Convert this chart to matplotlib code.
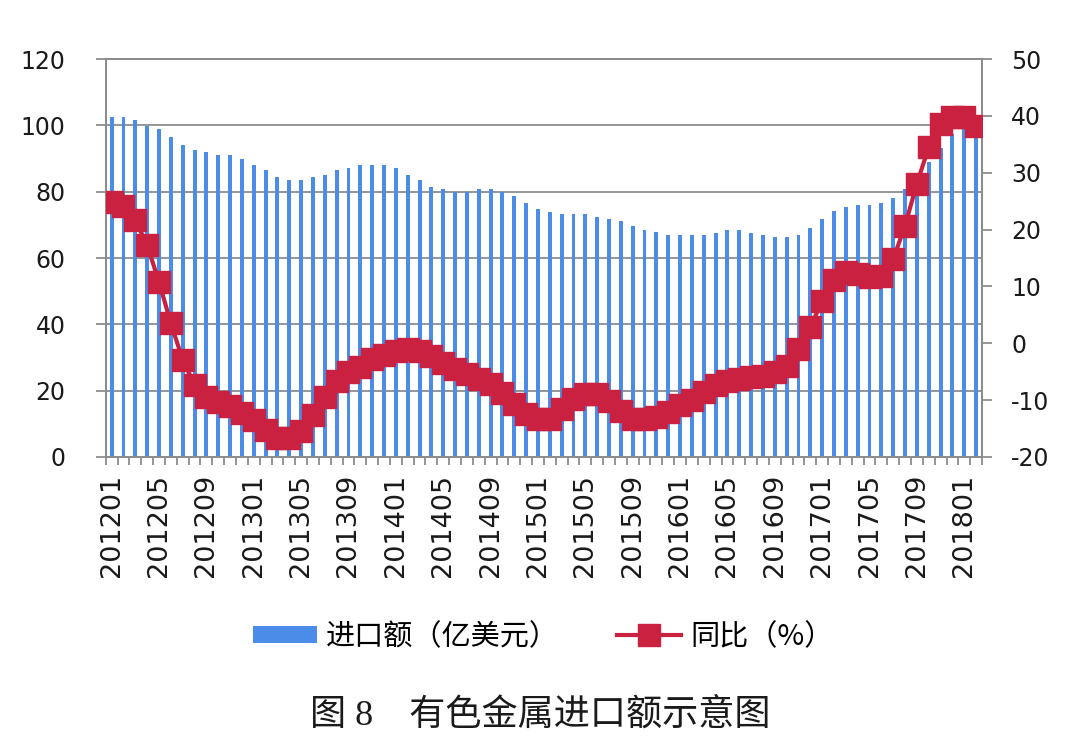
import numpy as np
import matplotlib
matplotlib.use("Agg")
import matplotlib.pyplot as plt
from matplotlib.font_manager import FontProperties
from matplotlib.lines import Line2D
from matplotlib.patches import Patch

# monthly import value (100m USD) and yoy growth (%), 201201 - 201802
months = [f"{y}{m:02d}" for y in range(2012, 2019) for m in range(1, 13)][:74]

import_val = [102.4, 102.4, 101.7, 99.9, 98.8, 96.6, 94.0, 92.6, 91.9, 91.2, 91.2, 89.9,
              87.9, 86.4, 84.4, 83.5, 83.5, 84.4, 85.0, 86.4, 87.2, 87.9, 87.9, 87.9,
              87.2, 85.0, 83.5, 81.5, 80.7, 80.0, 80.0, 80.7, 80.7, 80.0, 78.8, 76.7,
              74.7, 74.0, 73.3, 73.3, 73.3, 72.5, 71.8, 71.2, 69.7, 68.4, 67.7, 67.0,
              67.0, 67.0, 67.0, 67.6, 68.4, 68.4, 67.6, 67.0, 66.3, 66.3, 67.0, 69.1,
              71.9, 74.1, 75.3, 76.0, 76.0, 76.7, 78.1, 80.7, 85.5, 89.0, 93.3, 97.5,
              99.0, 98.0]

yoy = [24.9, 24.1, 21.7, 17.2, 10.8, 3.5, -2.9, -7.3, -9.4, -10.3, -11.1, -12.3,
       -13.5, -15.2, -16.7, -16.7, -15.5, -12.6, -9.4, -6.7, -5.1, -4.1, -2.8, -2.0,
       -1.3, -1.0, -1.3, -2.2, -3.4, -4.6, -5.4, -6.3, -7.2, -8.7, -10.7, -12.5,
       -13.4, -13.4, -11.6, -9.8, -9.0, -9.0, -10.1, -11.9, -13.4, -13.4, -13.0, -12.0,
       -10.8, -10.0, -8.6, -7.3, -6.7, -6.3, -6.0, -5.7, -5.0, -4.0, -1.0, 2.8,
       7.5, 11.2, 12.5, 12.2, 11.6, 11.8, 14.8, 20.7, 28.1, 34.5, 38.5, 39.8,
       39.8, 38.3]

bar_label = "进口额（亿美元）"
line_label = "同比（%）"
caption = "图 8　有色金属进口额示意图"

bar_c = "#4a8ce8"
line_c = "#c9213f"
grey = "#8c8c8c"
text_c = "#1a1a1a"
cjk = ["Noto Sans CJK SC", "DejaVu Sans"]

plt.rcParams["font.family"] = ["DejaVu Sans", "Noto Sans CJK SC"]
plt.rcParams["axes.unicode_minus"] = False

x = np.arange(len(months))

fig = plt.figure(figsize=(10.8, 7.51), dpi=100)
ax = fig.add_axes([0.0979, 0.3915, 0.8114, 0.5299])
ax2 = ax.twinx()

ax.bar(x, import_val, width=0.33, color=bar_c, zorder=2)
ax2.plot(x, yoy, color=line_c, lw=3, marker="s", ms=15.5, zorder=3)

ax.set_xlim(-0.5, len(months) - 0.5)
ax.set_ylim(0, 120)
ax.set_yticks(range(0, 121, 20))
ax2.set_ylim(-20, 50)
ax2.set_yticks(range(-20, 51, 10))

ax.set_axisbelow(True)
ax.yaxis.grid(True, color=grey, lw=1.3)
ax.xaxis.grid(False)

for a in (ax, ax2):
    for sp in a.spines.values():
        sp.set_color(grey)
        sp.set_linewidth(1.3)

ax.tick_params(axis="y", direction="out", length=7, width=1.3, color=grey,
               labelsize=17, labelcolor=text_c, pad=22)
ax2.tick_params(axis="y", direction="out", length=7, width=1.3, color=grey,
                labelsize=17, labelcolor=text_c, pad=14)

ax.set_xticks(x[::4])
ax.set_xticklabels(months[::4], rotation=90, fontsize=19.5, color=text_c)
ax.set_xticks(np.arange(-0.5, len(months), 1), minor=True)
ax.tick_params(axis="x", which="major", length=0, pad=12)
ax.tick_params(axis="x", which="minor", direction="out", length=6, width=1.3, color=grey)

handles = [Patch(facecolor=bar_c, edgecolor="none"),
           Line2D([0], [0], color=line_c, lw=3, marker="s", ms=15.5)]
fig.legend(handles, [bar_label, line_label], loc="center",
           bbox_to_anchor=(0.503, 1 - 637 / 751), ncol=2, frameon=False,
           prop=FontProperties(family=cjk, size=21),
           handlelength=2.2, handleheight=0.55, columnspacing=2.0, handletextpad=0.3)

fig.text(0.5, 1 - 715 / 751, caption, ha="center", va="center", fontsize=26,
         color=text_c, family=["Liberation Serif", "Noto Sans CJK SC"])

fig.savefig("out.png", dpi=100, facecolor="white")
